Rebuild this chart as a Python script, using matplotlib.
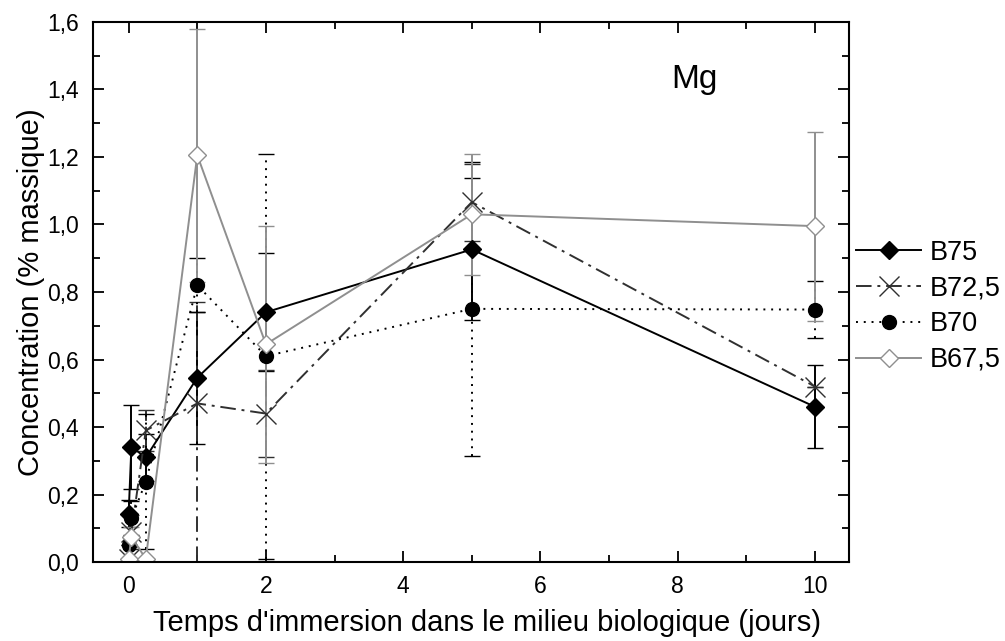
import numpy as np
import matplotlib
matplotlib.use('Agg')
from matplotlib import pyplot as plt
from matplotlib.lines import Line2D
from matplotlib.ticker import MultipleLocator, FuncFormatter

plt.rcParams['font.family'] = ['Liberation Sans', 'DejaVu Sans']

# temps d'immersion (jours)
temps = [0, 0.04, 0.25, 1, 2, 5, 10]

B75 = [0.144, 0.341, 0.31, 0.546, 0.74, 0.926, 0.46]
B75_err = [0.04, 0.123, 0.07, 0.195, 0.175, 0.21, 0.123]

B725 = [0.01, 0.09, 0.39, 0.47, 0.44, 1.066, 0.52]
B725_err_bas = [0.0, 0.05, 0.06, 0.47, 0.13, 0.114, 0.0]
B725_err_haut = [0.0, 0.05, 0.06, 0.3, 0.13, 0.114, 0.0]

B70 = [0.05, 0.13, 0.238, 0.82, 0.61, 0.75, 0.748]
B70_err = [0.0, 0.05, 0.2, 0.08, 0.6, 0.435, 0.085]

B675 = [0.01, 0.075, 0.01, 1.205, 0.645, 1.03, 0.995]
B675_err = [0.0, 0.03, 0.0, 0.375, 0.35, 0.18, 0.28]

gris = '#8f8f8f'
tiret_point = (0, (8, 3, 1.5, 3))
pointille = (0, (1, 3))

fig = plt.figure(figsize=(10.05, 6.41), dpi=100)
ax = fig.add_axes([0.0925, 0.123, 0.7525, 0.843])

def trace(y, err, ls, marker, color, mfc, ms):
    eb = ax.errorbar(temps, y, yerr=err, color=color, linestyle=ls, linewidth=1.4,
                     marker=marker, markersize=ms, markerfacecolor=mfc, markeredgecolor=color,
                     markeredgewidth=1.0, capsize=6, elinewidth=1.4, capthick=1.4)
    eb[2][0].set_linestyle(ls)
    return Line2D([], [], color=color, linestyle=ls, linewidth=1.4, marker=marker,
                  markersize=ms, markerfacecolor=mfc, markeredgecolor=color)

handles = []
handles.append(trace(B75, B75_err, '-', 'D', 'black', 'black', 9.5))
handles.append(trace(B725, [B725_err_bas, B725_err_haut], tiret_point, 'x', '#303030', '#303030', 15))
handles.append(trace(B70, B70_err, pointille, 'o', 'black', 'black', 10))
handles.append(trace(B675, B675_err, '-', 'D', gris, 'white', 9.5))
labels = ['B75', 'B72,5', 'B70', 'B67,5']

ax.set_xlim(-0.52, 10.5)
ax.set_ylim(0, 1.6)
ax.xaxis.set_major_locator(MultipleLocator(2))
ax.xaxis.set_minor_locator(MultipleLocator(1))
ax.yaxis.set_major_locator(MultipleLocator(0.2))
ax.yaxis.set_minor_locator(MultipleLocator(0.1))
ax.yaxis.set_major_formatter(FuncFormatter(lambda v, p: f'{v:.1f}'.replace('.', ',')))
ax.tick_params(which='both', direction='in', top=True, right=True, width=1.3, labelsize=16.5)
ax.tick_params(which='major', length=8)
ax.tick_params(which='minor', length=5)
ax.tick_params(axis='x', pad=9)
ax.tick_params(axis='y', pad=10)
for s in ax.spines.values():
    s.set_linewidth(1.5)

ax.set_xlabel("Temps d'immersion dans le milieu biologique (jours)", fontsize=21)
ax.xaxis.set_label_coords(0.521, -0.087)
ax.set_ylabel('Concentration (% massique)', fontsize=21, labelpad=2)
ax.text(8.25, 1.43, 'Mg', fontsize=24, ha='center', va='center')

ax.legend(handles, labels, loc='upper left', bbox_to_anchor=(0.852, 0.626),
          bbox_transform=fig.transFigure, frameon=False, fontsize=19.5, handlelength=2.4,
          handletextpad=0.3, labelspacing=0.36, borderaxespad=0, borderpad=0)

plt.savefig('out.png', dpi=100)
